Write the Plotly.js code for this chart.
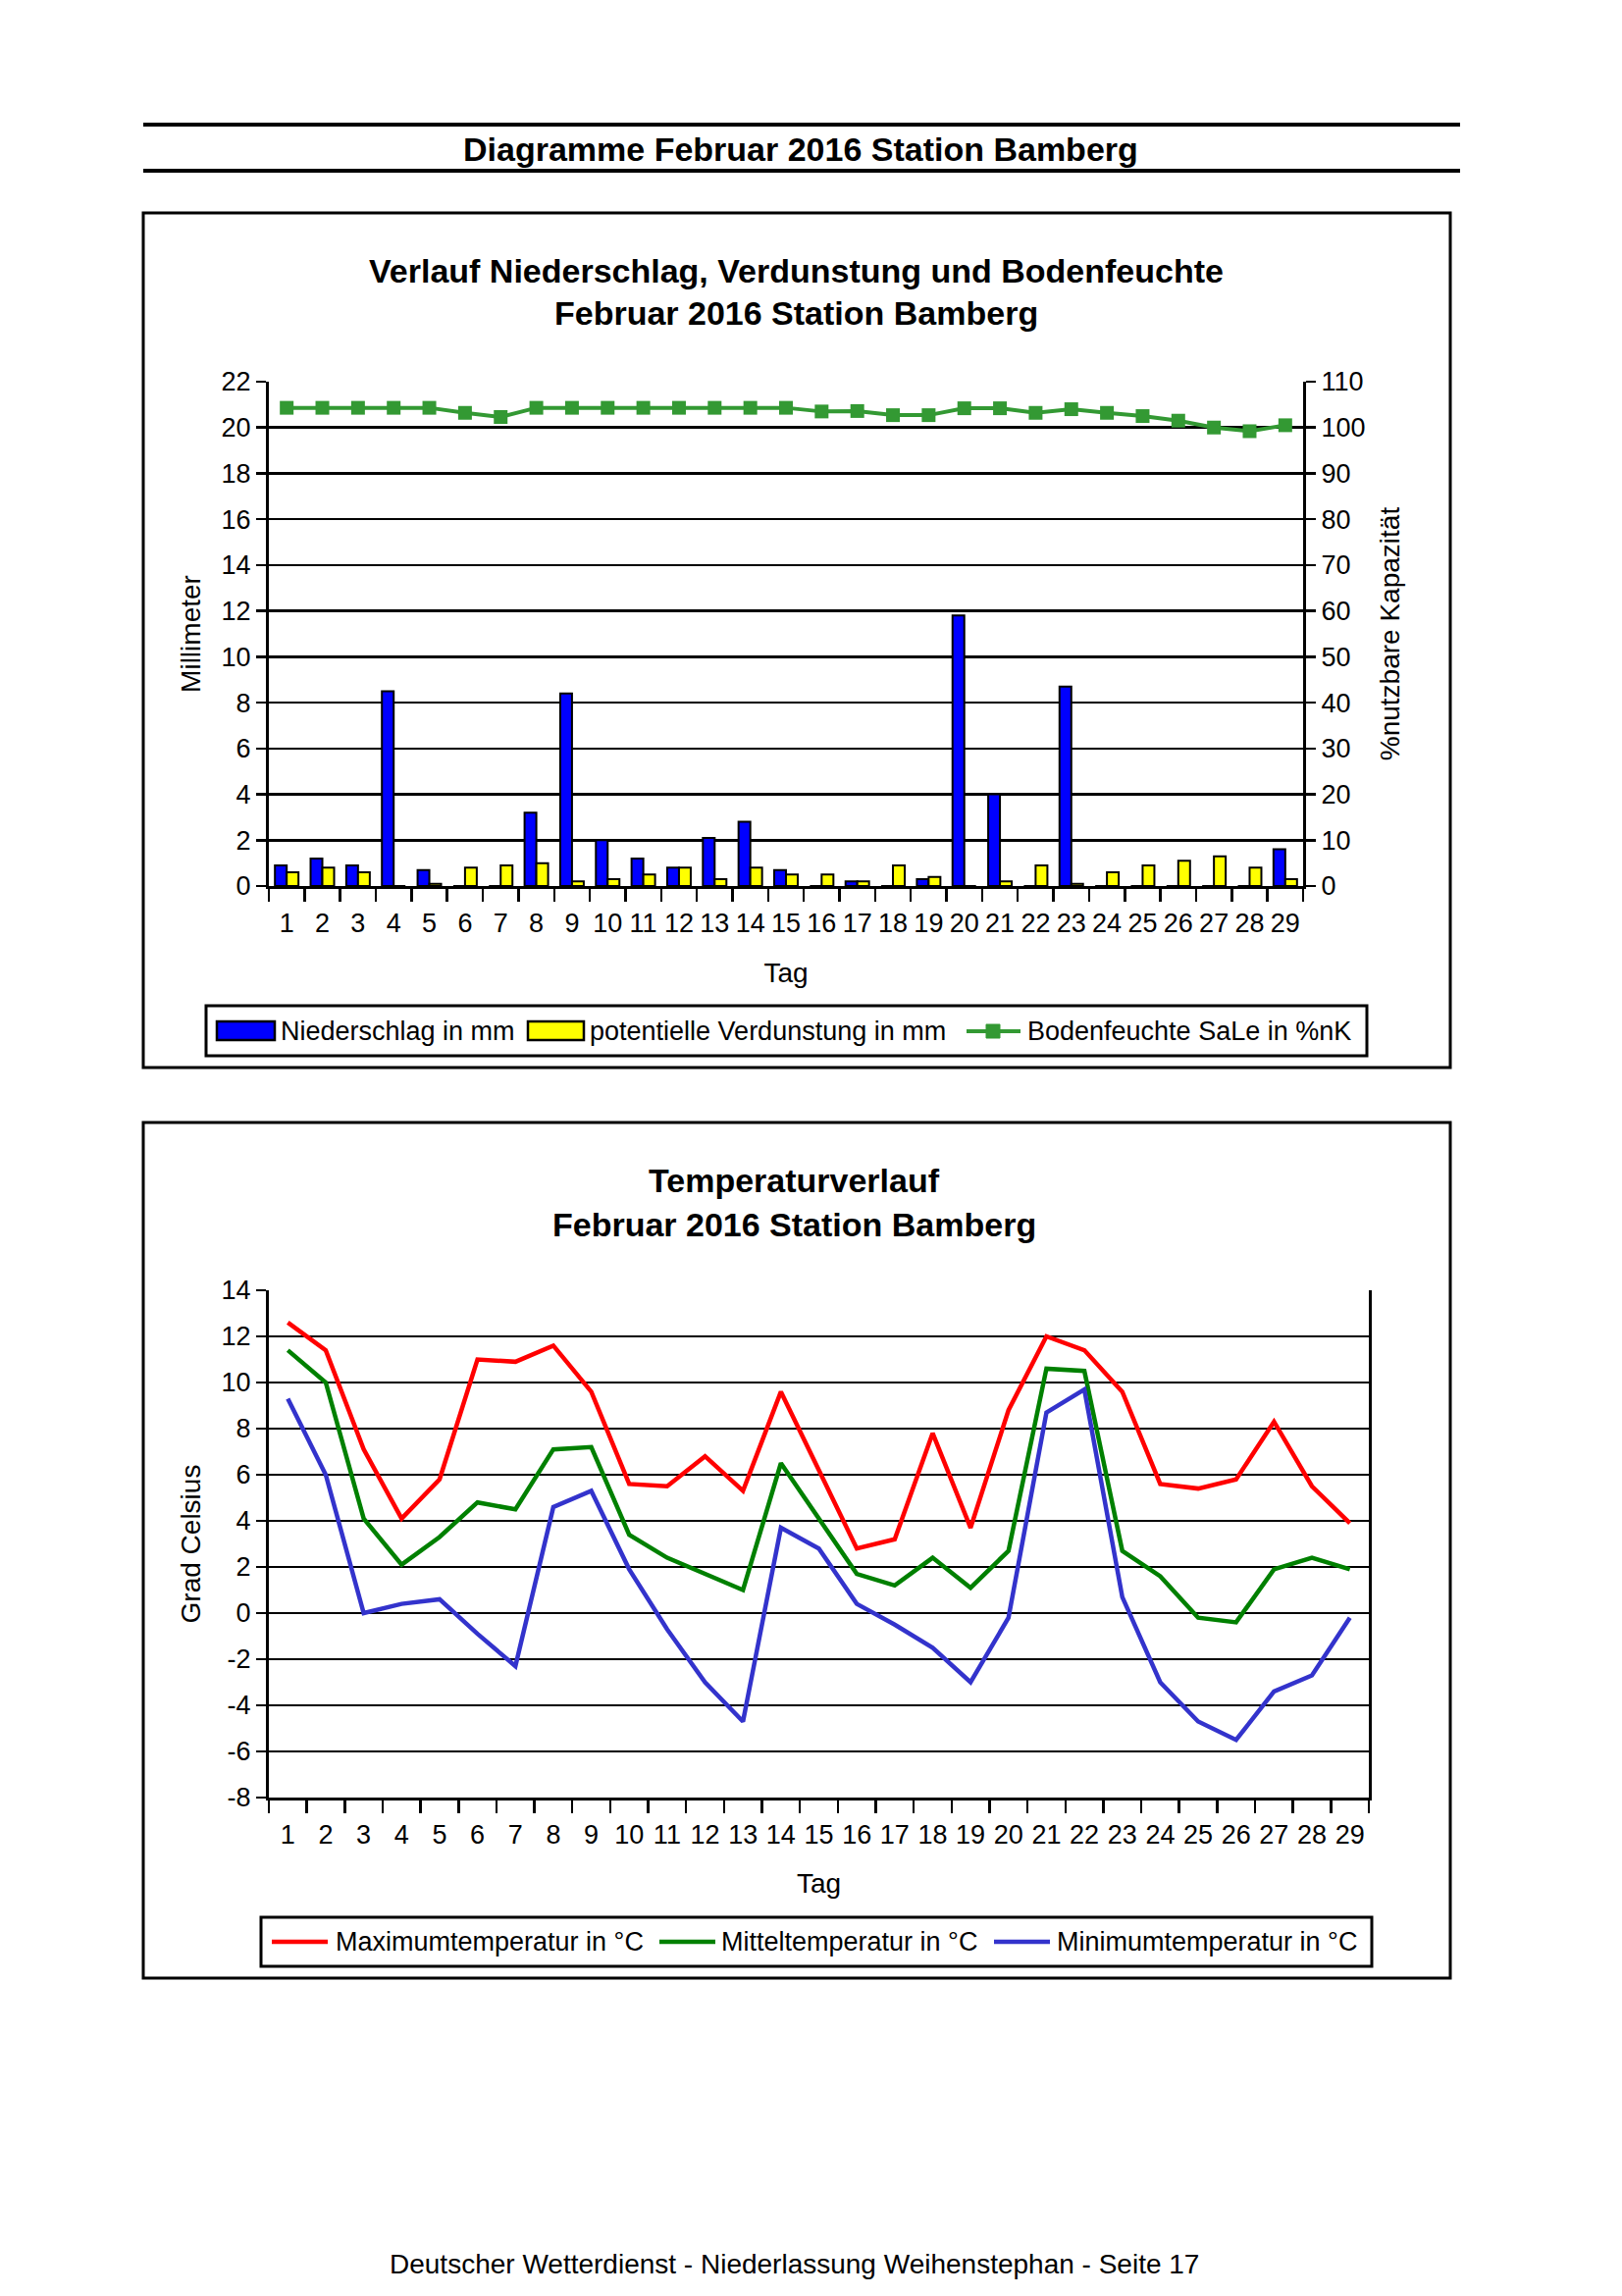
<!DOCTYPE html>
<html>
<head>
<meta charset="utf-8">
<script src="https://cdn.plot.ly/plotly-3.0.1.min.js"></script>
<style>
  html, body { margin: 0; padding: 0; background: #ffffff; }
  #chart { width: 1653px; height: 2340px; }
</style>
</head>
<body>
<div id="chart"></div>
<script>
// ---------- data ----------
const days = ['1','2','3','4','5','6','7','8','9','10','11','12','13','14','15','16','17','18','19','20','21','22','23','24','25','26','27','28','29'];

const niederschlag = [0.9, 1.2, 0.9, 8.5, 0.7, 0, 0, 3.2, 8.4, 2.0, 1.2, 0.8, 2.1, 2.8, 0.7, 0, 0.2, 0, 0.3, 11.8, 4.0, 0, 8.7, 0, 0, 0, 0, 0, 1.6];
const verdunstung  = [0.6, 0.8, 0.6, 0, 0.1, 0.8, 0.9, 1.0, 0.2, 0.3, 0.5, 0.8, 0.3, 0.8, 0.5, 0.5, 0.2, 0.9, 0.4, 0, 0.2, 0.9, 0.1, 0.6, 0.9, 1.1, 1.3, 0.8, 0.3];
const bodenfeuchte = [104.3, 104.3, 104.3, 104.3, 104.3, 103.2, 102.3, 104.3, 104.3, 104.3, 104.3, 104.3, 104.3, 104.3, 104.3, 103.5, 103.6, 102.7, 102.7, 104.2, 104.2, 103.2, 104.0, 103.2, 102.5, 101.5, 100.0, 99.2, 100.5];

const tMax    = [12.6, 11.4, 7.1, 4.1, 5.8, 11.0, 10.9, 11.6, 9.6, 5.6, 5.5, 6.8, 5.3, 9.6, 6.2, 2.8, 3.2, 7.8, 3.7, 8.8, 12.0, 11.4, 9.6, 5.6, 5.4, 5.8, 8.3, 5.5, 3.9];
const tMittel = [11.4, 10.0, 4.1, 2.1, 3.3, 4.8, 4.5, 7.1, 7.2, 3.4, 2.4, 1.7, 1.0, 6.5, 4.1, 1.7, 1.2, 2.4, 1.1, 2.7, 10.6, 10.5, 2.7, 1.6, -0.2, -0.4, 1.9, 2.4, 1.9];
const tMin    = [9.3, 6.0, 0.0, 0.4, 0.6, -0.9, -2.3, 4.6, 5.3, 1.9, -0.7, -3.0, -4.7, 3.7, 2.8, 0.4, -0.5, -1.5, -3.0, -0.2, 8.7, 9.7, 0.7, -3.0, -4.7, -5.5, -3.4, -2.7, -0.2];

// tick labels of the temperature axis (plain hyphen minus as in the original)
const tempTickVals  = [-8, -6, -4, -2, 0, 2, 4, 6, 8, 10, 12, 14];
const tempTickText  = ['-8', '-6', '-4', '-2', '0', '2', '4', '6', '8', '10', '12', '14'];

// series names / colours
const names1  = ['Niederschlag in mm', 'potentielle Verdunstung in mm', 'Bodenfeuchte SaLe in %nK'];
const names2  = ['Maximumtemperatur in °C', 'Mitteltemperatur in °C', 'Minimumtemperatur in °C'];
const COL_BLUE = '#0000FF', COL_YELLOW = '#FFFF00', COL_SOIL = '#339933';
const COL_MAX = '#FF0000', COL_MID = '#008000', COL_MIN = '#3333CC';

// ---------- page geometry (pixels) ----------
const W = 1653, H = 2340;
const px = x => x / W;
const py = y => 1 - y / H;
const FONT = 'Liberation Sans, Arial, sans-serif';

const traces = [
  { type: 'bar', name: names1[0], x: days, y: niederschlag, xaxis: 'x', yaxis: 'y',
    marker: { color: COL_BLUE, line: { color: '#000000', width: 2 } } },
  { type: 'bar', name: names1[1], x: days, y: verdunstung, xaxis: 'x', yaxis: 'y',
    marker: { color: COL_YELLOW, line: { color: '#000000', width: 2 } } },
  { type: 'scatter', mode: 'lines+markers', name: names1[2], x: days, y: bodenfeuchte,
    xaxis: 'x', yaxis: 'y2', line: { color: COL_SOIL, width: 4 },
    marker: { symbol: 'square', size: 14, color: COL_SOIL } },
  { type: 'scatter', mode: 'lines', name: names2[0], x: days, y: tMax,
    xaxis: 'x3', yaxis: 'y3', line: { color: COL_MAX, width: 4.5 } },
  { type: 'scatter', mode: 'lines', name: names2[1], x: days, y: tMittel,
    xaxis: 'x3', yaxis: 'y3', line: { color: COL_MID, width: 4.5 } },
  { type: 'scatter', mode: 'lines', name: names2[2], x: days, y: tMin,
    xaxis: 'x3', yaxis: 'y3', line: { color: COL_MIN, width: 4.5 } }
];

const tickFont = { family: FONT, size: 27, color: '#000000' };
const titleFont = { family: FONT, size: 28, color: '#000000' };
const legendFont = { family: FONT, size: 27, color: '#000000' };

const catAxis = (domain, anchor) => ({
  type: 'category', domain: domain, anchor: anchor, range: [-0.5, days.length - 0.5],
  tickson: 'boundaries', tickangle: 0, ticklabelstandoff: 12,
  ticks: 'outside', ticklen: 13, tickwidth: 2.5, tickcolor: '#000',
  showline: true, linecolor: '#000', linewidth: 3, showgrid: false,
  tickfont: tickFont, automargin: false, fixedrange: true,
  title: { text: 'Tag', font: titleFont, standoff: 26 }
});

// ---------- hand-drawn legend boxes (wide symbols as in the original) ----------
const P = (x0, y0, x1, y1) => ({ xref: 'paper', yref: 'paper', x0: px(x0), x1: px(x1), y0: py(y0), y1: py(y1) });
const legendShapes = [
  Object.assign({ type: 'rect', line: { color: '#000', width: 3 }, fillcolor: '#fff' }, P(210, 1025, 1393, 1076)),
  Object.assign({ type: 'rect', line: { color: '#000', width: 2.5 }, fillcolor: COL_BLUE }, P(221, 1041, 280, 1060)),
  Object.assign({ type: 'rect', line: { color: '#000', width: 2.5 }, fillcolor: COL_YELLOW }, P(538, 1041, 595, 1060)),
  Object.assign({ type: 'line', line: { color: COL_SOIL, width: 4 } }, P(985, 1051, 1040, 1051)),
  Object.assign({ type: 'rect', line: { color: COL_SOIL, width: 1 }, fillcolor: COL_SOIL }, P(1005, 1044, 1019, 1058)),

  Object.assign({ type: 'rect', line: { color: '#000', width: 3 }, fillcolor: '#fff' }, P(266, 1954, 1398, 2004)),
  Object.assign({ type: 'line', line: { color: COL_MAX, width: 4.5 } }, P(277, 1979, 334, 1979)),
  Object.assign({ type: 'line', line: { color: COL_MID, width: 4.5 } }, P(672, 1979, 729, 1979)),
  Object.assign({ type: 'line', line: { color: COL_MIN, width: 4.5 } }, P(1013, 1979, 1070, 1979))
];
const legendText = (txt, x, y) => ({ xref: 'paper', yref: 'paper', x: px(x), y: py(y), text: txt, showarrow: false,
  font: legendFont, xanchor: 'left', yanchor: 'middle' });
const legendAnn = [
  legendText(names1[0], 284, 1051), legendText(names1[1], 599, 1051), legendText(names1[2], 1045, 1051),
  legendText(names2[0], 340, 1979), legendText(names2[1], 733, 1979), legendText(names2[2], 1075, 1979)
];

const titleAnn = (txt, x, y, size, bold) => ({ xref: 'paper', yref: 'paper', x: px(x), y: py(y),
  text: bold ? '<b>' + txt + '</b>' : txt, showarrow: false,
  font: { family: FONT, size: size, color: '#000' }, xanchor: 'center', yanchor: 'middle' });

const layout = {
  width: W, height: H,
  margin: { l: 0, r: 0, t: 0, b: 0 },
  paper_bgcolor: '#ffffff', plot_bgcolor: '#ffffff',
  font: { family: FONT, color: '#000000' },
  showlegend: false,
  barmode: 'group', bargap: 0.34, bargroupgap: 0,
  xaxis: catAxis([px(274), px(1328)], 'y'),
  yaxis: {
    domain: [py(903), py(389)], range: [0, 22], dtick: 2, anchor: 'x',
    ticks: 'outside', ticklen: 10, tickwidth: 2.5, tickcolor: '#000',
    showline: true, linecolor: '#000', linewidth: 3,
    showgrid: true, gridcolor: '#000', gridwidth: 2.5, zeroline: false,
    tickfont: tickFont, automargin: false, fixedrange: true,
    title: { text: 'Millimeter', font: titleFont, standoff: 13 }
  },
  yaxis2: {
    overlaying: 'y', side: 'right', anchor: 'x', range: [0, 110], dtick: 10,
    ticks: 'outside', ticklen: 10, tickwidth: 2.5, tickcolor: '#000',
    showline: true, linecolor: '#000', linewidth: 3, showgrid: false, zeroline: false,
    tickfont: tickFont, automargin: false, fixedrange: true,
    title: { text: '%nutzbare Kapazität', font: titleFont, standoff: 16 }
  },
  xaxis3: catAxis([px(274), px(1395)], 'y3'),
  yaxis3: {
    domain: [py(1832), py(1315)], range: [-8, 14], anchor: 'x3',
    tickmode: 'array', tickvals: tempTickVals, ticktext: tempTickText,
    ticks: 'outside', ticklen: 10, tickwidth: 2.5, tickcolor: '#000',
    showline: true, mirror: true, linecolor: '#000', linewidth: 3,
    showgrid: true, gridcolor: '#000', gridwidth: 2.5, zeroline: false,
    tickfont: tickFont, automargin: false, fixedrange: true,
    title: { text: 'Grad Celsius', font: titleFont, standoff: 13 }
  },
  shapes: [
    Object.assign({ type: 'line', line: { color: '#000', width: 4 } }, P(146, 127, 1488, 127)),
    Object.assign({ type: 'line', line: { color: '#000', width: 4 } }, P(146, 174, 1488, 174)),
    Object.assign({ type: 'rect', line: { color: '#000', width: 3 } }, P(146, 217, 1478, 1088)),
    Object.assign({ type: 'rect', line: { color: '#000', width: 3 } }, P(146, 1144, 1478, 2016))
  ].concat(legendShapes),
  annotations: [
    titleAnn('Diagramme Februar 2016 Station Bamberg', 816, 152, 34, true),
    titleAnn('Verlauf Niederschlag, Verdunstung und Bodenfeuchte', 811, 276, 34, true),
    titleAnn('Februar 2016 Station Bamberg', 811, 319, 34, true),
    titleAnn('Temperaturverlauf', 809, 1203, 34, true),
    titleAnn('Februar 2016 Station Bamberg', 809, 1248, 34, true),
    titleAnn('Deutscher Wetterdienst - Niederlassung Weihenstephan - Seite 17', 809, 2307, 28, false)
  ].concat(legendAnn)
};

Plotly.newPlot('chart', traces, layout, { staticPlot: true, displayModeBar: false });
</script>
</body>
</html>
